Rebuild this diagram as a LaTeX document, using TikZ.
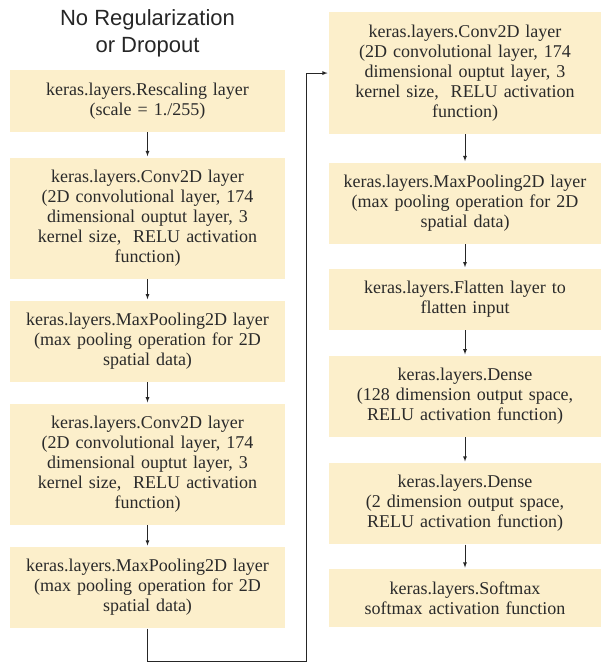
\documentclass[tikz,border=0pt]{standalone}
\usepackage{fontspec}
\setmainfont{Liberation Serif}
\newfontfamily\headfont{Liberation Sans}
\usetikzlibrary{positioning,arrows.meta}

\definecolor{layerfill}{HTML}{FCEFCB}
\definecolor{layertext}{HTML}{2A2A2A}

\begin{document}
\begin{tikzpicture}[x=1pt,y=1pt,->,>=latex,shorten >=1pt,line width=0.8pt,
  color=black!85,
  layer/.style={rectangle,fill=layerfill,text=layertext,align=center,
    text width=263pt,inner xsep=6pt,inner ysep=12.5pt,
    font=\fontsize{18}{20}\selectfont},
  rlayer/.style={layer,text width=260pt},
  heading/.style={align=center,inner sep=0pt,text=black!85,
    font=\headfont\fontsize{22}{27}\selectfont}]
  \useasboundingbox (0,0) rectangle (605,-662);

  % left column
  \node[layer,anchor=north] (l1) at (147.5,-70) {keras.layers.Rescaling layer\\(scale = 1./255)};
  \node[layer] (l2) [below=25pt of l1] {keras.layers.Conv2D layer\\(2D convolutional layer, 174\\dimensional ouptut layer, 3\\kernel size,\ \ RELU activation\\function)};
  \node[layer] (l3) [below=21pt of l2] {keras.layers.MaxPooling2D layer\\(max pooling operation for 2D\\spatial data)};
  \node[layer] (l4) [below=21pt of l3] {keras.layers.Conv2D layer\\(2D convolutional layer, 174\\dimensional ouptut layer, 3\\kernel size,\ \ RELU activation\\function)};
  \node[layer] (l5) [below=21pt of l4] {keras.layers.MaxPooling2D layer\\(max pooling operation for 2D\\spatial data)};

  \node[heading] (title) [above=13pt of l1] {No Regularization\\or Dropout};

  % right column
  \node[rlayer,anchor=north] (r1) at (465,-12) {keras.layers.Conv2D layer\\(2D convolutional layer, 174\\dimensional ouptut layer, 3\\kernel size,\ \ RELU activation\\function)};
  \node[rlayer] (r2) [below=28pt of r1] {keras.layers.MaxPooling2D layer\\(max pooling operation for 2D\\spatial data)};
  \node[rlayer] (r3) [below=24pt of r2] {keras.layers.Flatten layer to\\flatten input};
  \node[rlayer] (r4) [below=25pt of r3] {keras.layers.Dense\\(128 dimension output space,\\RELU activation function)};
  \node[rlayer] (r5) [below=25pt of r4] {keras.layers.Dense\\(2 dimension output space,\\RELU activation function)};
  \node[rlayer] (r6) [below=24pt of r5] {keras.layers.Softmax\\softmax activation function};

  \path (l1) edge (l2)
        (l2) edge (l3)
        (l3) edge (l4)
        (l4) edge (l5)
        (r1) edge (r2)
        (r2) edge (r3)
        (r3) edge (r4)
        (r4) edge (r5)
        (r5) edge (r6);

  % jump to second column
  \coordinate (jump) at ([yshift=-33pt]l5.south);
  \coordinate (rise) at ([xshift=-22pt]r1.west);
  \draw (l5) -- (jump) -| (rise) -- (r1);
\end{tikzpicture}
\end{document}
